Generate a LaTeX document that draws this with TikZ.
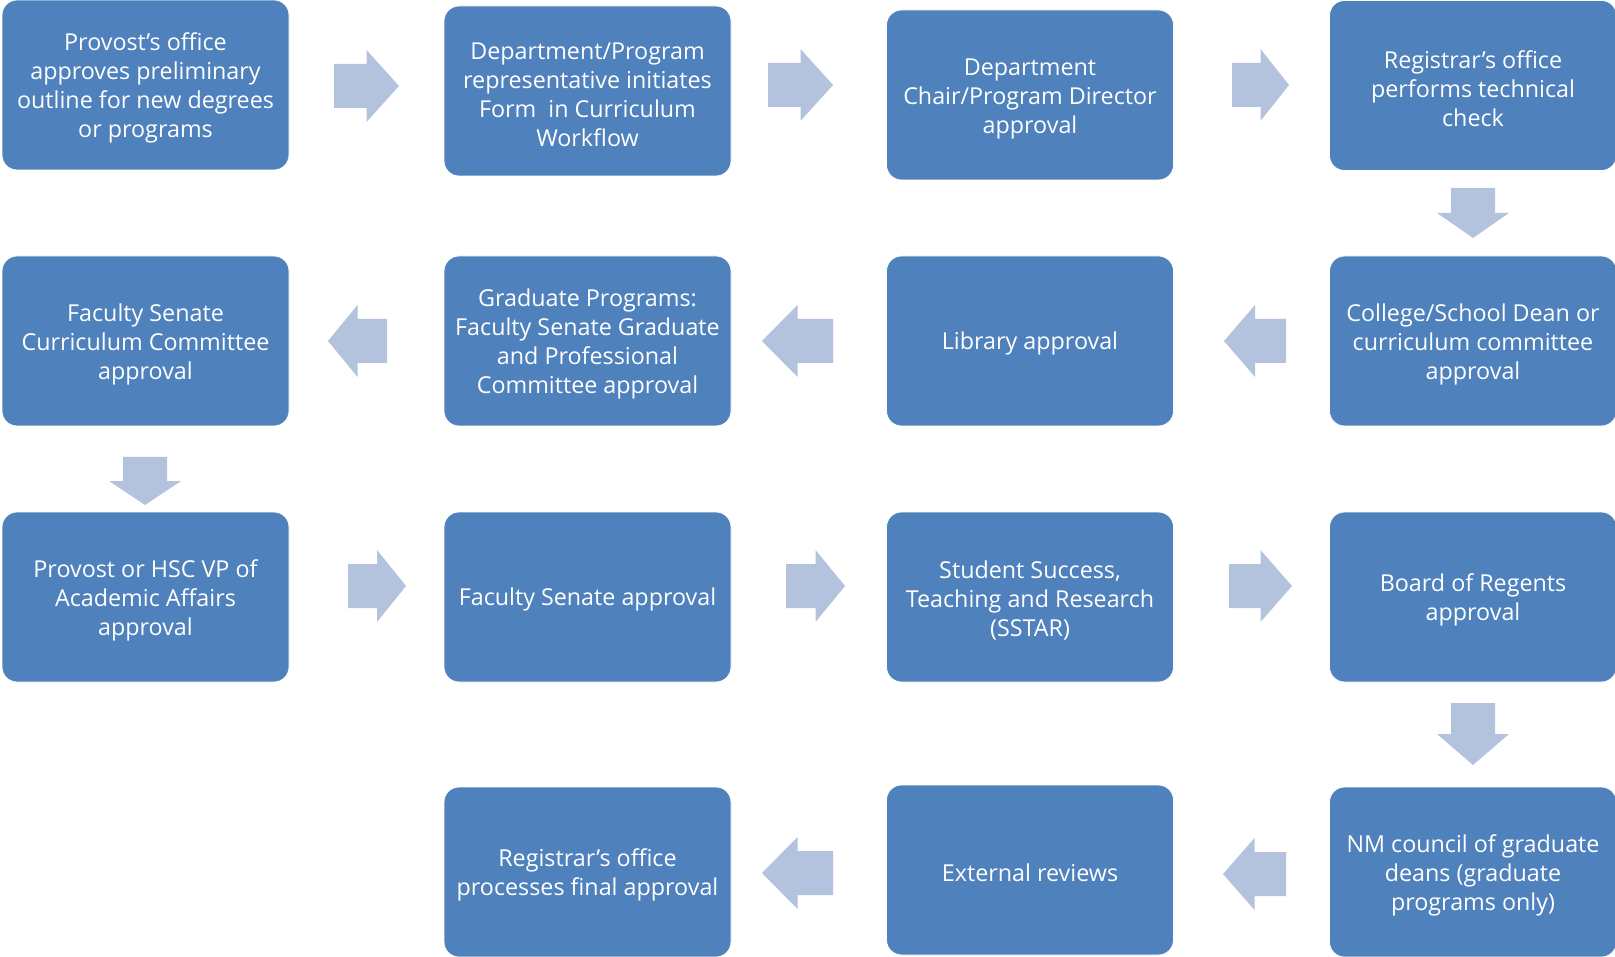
\documentclass[tikz,border=0pt]{standalone}
\usepackage{fontspec}
\setmainfont{Open Sans}
\definecolor{boxblue}{HTML}{4F81BD}
\definecolor{arrblue}{HTML}{B3C2DD}
\newcommand\lift{\rule{0pt}{24.5pt}}
\newcommand\arR[3]{% tail x, tip x, centre y
  \fill[arr] (#1,#3-22) -- ({(#1+#2)/2},#3-22) -- ({(#1+#2)/2},#3-36) -- (#2,#3)
    -- ({(#1+#2)/2},#3+36) -- ({(#1+#2)/2},#3+22) -- (#1,#3+22) -- cycle;}
\newcommand\arL[3]{% tip x, tail x, centre y
  \fill[arr] (#2,#3-22) -- ({(#1+#2)/2},#3-22) -- ({(#1+#2)/2},#3-36) -- (#1,#3)
    -- ({(#1+#2)/2},#3+36) -- ({(#1+#2)/2},#3+22) -- (#2,#3+22) -- cycle;}
\newcommand\arD[3]{% centre x, tail y, tip y
  \fill[arr] (#1-22,#2) -- (#1-22,{(#2+#3)/2}) -- (#1-36,{(#2+#3)/2}) -- (#1,#3)
    -- (#1+36,{(#2+#3)/2}) -- (#1+22,{(#2+#3)/2}) -- (#1+22,#2) -- cycle;}
\begin{document}
\begin{tikzpicture}[x=1pt,y=-1pt,
  stepbox/.style={rectangle, rounded corners=15pt, fill=boxblue, draw=white, line width=0.8pt,
    minimum width=287pt, minimum height=170pt, text=white, align=center,
    font=\fontsize{23.3}{29}\selectfont, inner sep=0pt,
    execute at begin node={\rule{0pt}{23.5pt}}},
  arr/.style={fill=arrblue}]
\useasboundingbox (0,0) rectangle (1615,957);
% row 1
\node[stepbox] (b1) at (145.5,85) {\lift Provost’s office\\approves preliminary\\outline for new degrees\\or programs};
\node[stepbox] (b2) at (587.5,91) {\lift Department/Program\\representative initiates\\Form\ \ in Curriculum\\Workflow};
\node[stepbox] (b3) at (1030,95) {\lift Department\\Chair/Program Director\\approval};
\node[stepbox] (b4) at (1473,85.5) {\lift Registrar’s office\\performs technical\\check};
% row 2
\node[stepbox] (b5) at (1473,341) {\lift College/School Dean or\\curriculum committee\\approval};
\node[stepbox] (b6) at (1030,341) {Library approval};
\node[stepbox] (b7) at (587.5,341) {\lift Graduate Programs:\\Faculty Senate Graduate\\and Professional\\Committee approval};
\node[stepbox] (b8) at (145.5,341) {\lift Faculty Senate\\Curriculum Committee\\approval};
% row 3
\node[stepbox] (b9) at (145.5,597) {\lift Provost or HSC VP of\\Academic Affairs\\approval};
\node[stepbox] (b10) at (587.5,597) {Faculty Senate approval};
\node[stepbox] (b11) at (1030,597) {\lift Student Success,\\Teaching and Research\\(SSTAR)};
\node[stepbox] (b12) at (1473,597) {\lift Board of Regents\\approval};
% row 4
\node[stepbox] (b13) at (1473,872) {\lift NM council of graduate\\deans (graduate\\programs only)};
\node[stepbox] (b14) at (1030,870) {External reviews};
\node[stepbox] (b15) at (587.5,872) {\lift Registrar’s office\\processes final approval};
% arrows
\arR{334}{399}{86}
\arR{768}{833}{85}
\arR{1232}{1289}{85}
\arD{1473}{188}{238}
\arL{1224}{1286}{341}
\arL{762}{833}{341}
\arL{328}{387}{341}
\arD{145}{457}{505}
\arR{348}{406}{586}
\arR{786}{845}{586}
\arR{1229}{1292}{586}
\arD{1473}{703}{765}
\arL{1223}{1286}{874}
\arL{762}{833}{873}
\end{tikzpicture}
\end{document}
